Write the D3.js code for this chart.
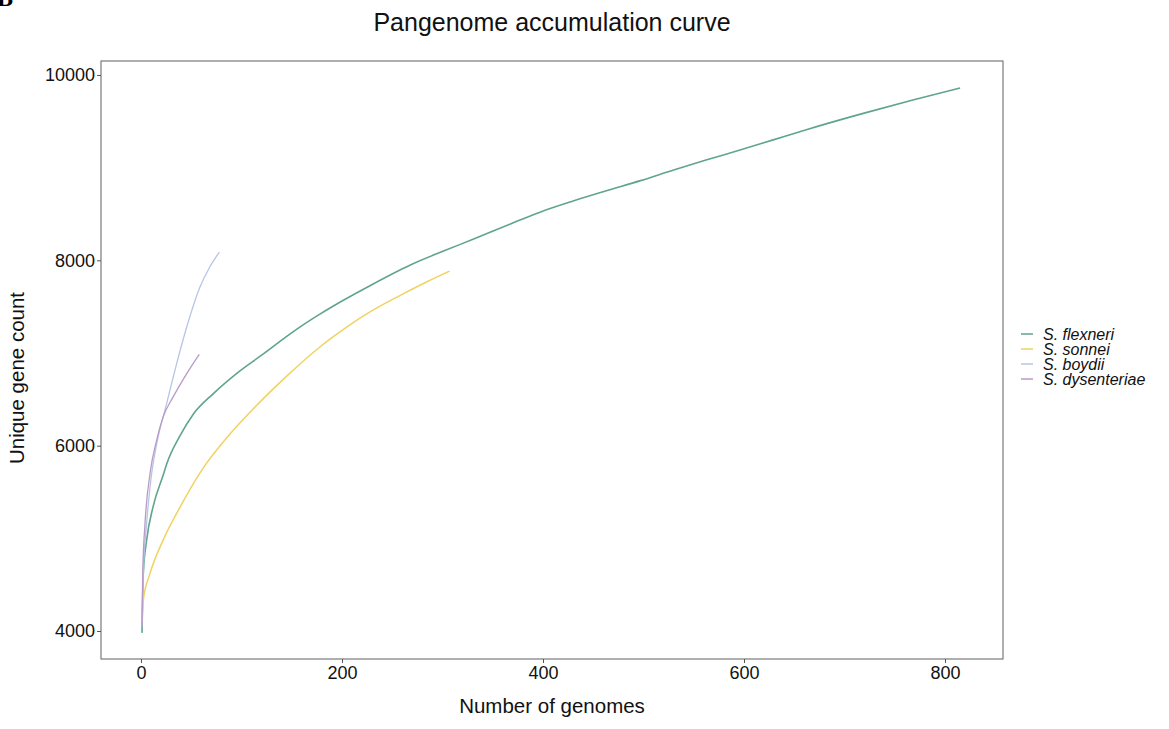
<!DOCTYPE html>
<html>
<head>
<meta charset="utf-8">
<script src="https://cdn.jsdelivr.net/npm/d3@7"></script>
<style>
  body { margin: 0; background: #fff; }
  svg { font-family: "Liberation Sans", Arial, Helvetica, sans-serif; }
</style>
</head>
<body>
<div id="chart"></div>
<script>
// Series names and colours
const speciesNames = ["S. flexneri", "S. sonnei", "S. boydii", "S. dysenteriae"];
const speciesColors = ["#5fa58b", "#f0d262", "#b7c5e4", "#b89ac9"];

// Number of genomes (x) and unique gene count (y)
const flexneriN = [1, 2.3, 5.6, 12, 22, 25.5, 39, 52, 72, 95, 121, 145, 158, 178, 191, 225, 268, 301, 331, 367, 397, 430, 463, 497, 530, 563, 596, 629, 662, 715, 768, 815];
const flexneriV = [3980, 4620, 4980, 5340, 5680, 5800, 6110, 6340, 6562, 6778, 6985, 7180, 7280, 7420, 7505, 7710, 7950, 8100, 8230, 8390, 8520, 8640, 8750, 8860, 8975, 9085, 9190, 9300, 9410, 9575, 9730, 9860];

const sonneiN = [1, 2.3, 9, 22, 39, 62, 85, 112, 145, 178, 191, 225, 258, 284, 307];
const sonneiV = [4100, 4334, 4622, 4981, 5340, 5760, 6080, 6400, 6750, 7065, 7173, 7425, 7622, 7766, 7884];

const boydiiN = [1, 2.3, 5.6, 10.6, 16, 25.5, 35.5, 45.5, 58.7, 68, 78];
const boydiiV = [4050, 4622, 5161, 5700, 6040, 6454, 6886, 7280, 7712, 7920, 8089];

const dysenteriaeN = [1, 1.7, 4, 9, 15.6, 22, 32, 45.5, 58];
const dysenteriaeV = [4050, 4622, 5161, 5700, 6059, 6310, 6526, 6778, 6986];

// Tick values
const xTicks = [0, 200, 400, 600, 800];
const yTicks = [4000, 6000, 8000, 10000];

const series = [
    { name: speciesNames[0], color: speciesColors[0], width: 1.6, pts: flexneriN.map((n, i) => [n, flexneriV[i]]) },
    { name: speciesNames[1], color: speciesColors[1], width: 1.5, pts: sonneiN.map((n, i) => [n, sonneiV[i]]) },
    { name: speciesNames[2], color: speciesColors[2], width: 1.3, pts: boydiiN.map((n, i) => [n, boydiiV[i]]) },
    { name: speciesNames[3], color: speciesColors[3], width: 1.3, pts: dysenteriaeN.map((n, i) => [n, dysenteriaeV[i]]) }
];

const width = 1169, height = 729;
const margin = { top: 61, right: 166, bottom: 70, left: 101 };
const innerW = width - margin.left - margin.right;
const innerH = height - margin.top - margin.bottom;

const svg = d3.select("#chart")
    .append("svg")
    .attr("width", width)
    .attr("height", height);

// Panel label (cut off at the top edge, as in the source figure)
svg.append("text")
    .attr("x", -3)
    .attr("y", 6)
    .attr("font-size", 24)
    .attr("font-weight", "bold")
    .attr("font-family", "Liberation Serif, serif")
    .text("B");

// Title
svg.append("text")
    .attr("x", 552)
    .attr("y", 31)
    .attr("text-anchor", "middle")
    .attr("font-size", 25)
    .attr("fill", "#111")
    .text("Pangenome accumulation curve");

const g = svg.append("g")
    .attr("transform", `translate(${margin.left},${margin.top})`);

// Scales
const x = d3.scaleLinear().domain([-39.8, 857.7]).range([0, innerW]);
const y = d3.scaleLinear().domain([3698, 10151]).range([innerH, 0]);

// Panel border
g.append("rect")
    .attr("width", innerW)
    .attr("height", innerH)
    .attr("fill", "none")
    .attr("stroke", "#7a7a7a")
    .attr("stroke-width", 1.2);

// Axes
const xAxis = g.append("g")
    .attr("transform", `translate(0,${innerH})`)
    .call(d3.axisBottom(x).tickValues(xTicks).tickFormat(d3.format("d")).tickSize(4).tickPadding(3));
const yAxis = g.append("g")
    .call(d3.axisLeft(y).tickValues(yTicks).tickFormat(d3.format("d")).tickSize(4).tickPadding(2));

[xAxis, yAxis].forEach(a => {
    a.select(".domain").remove();
    a.selectAll(".tick line").attr("stroke", "#555");
    a.selectAll(".tick text")
        .attr("font-size", 18)
        .attr("fill", "#111")
        .attr("font-family", "Liberation Sans, Arial, sans-serif");
});

// Axis titles
svg.append("text")
    .attr("x", 552)
    .attr("y", 713)
    .attr("text-anchor", "middle")
    .attr("font-size", 20.5)
    .attr("fill", "#111")
    .text("Number of genomes");

svg.append("text")
    .attr("transform", "translate(24,378) rotate(-90)")
    .attr("text-anchor", "middle")
    .attr("font-size", 20.5)
    .attr("fill", "#111")
    .text("Unique gene count");

// Curves
const line = d3.line()
    .x(d => x(d[0]))
    .y(d => y(d[1]))
    .curve(d3.curveMonotoneX);

g.selectAll(".curve")
    .data(series)
    .enter()
    .append("path")
    .attr("class", "curve")
    .attr("fill", "none")
    .attr("stroke", d => d.color)
    .attr("stroke-width", d => d.width)
    .attr("d", d => line(d.pts));

// Legend
const legend = svg.append("g")
    .attr("transform", "translate(1021,334)");

const rows = legend.selectAll(".row")
    .data(series)
    .enter()
    .append("g")
    .attr("class", "row")
    .attr("transform", (d, i) => `translate(0,${i * 15})`);

rows.append("line")
    .attr("x1", 0)
    .attr("x2", 12)
    .attr("stroke", d => d.color)
    .attr("stroke-width", 1.5);

rows.append("text")
    .attr("x", 22)
    .attr("dy", "0.35em")
    .attr("font-size", 16)
    .attr("font-style", "italic")
    .attr("fill", "#111")
    .text(d => d.name);
</script>
</body>
</html>
